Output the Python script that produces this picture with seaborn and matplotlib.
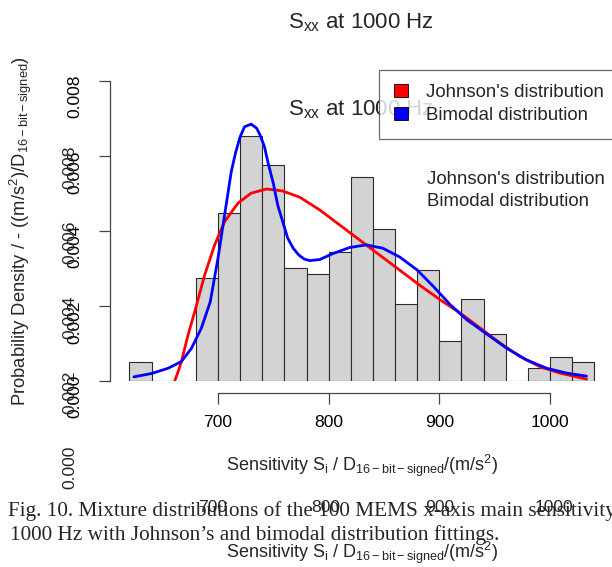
import numpy as np
import pandas as pd
import matplotlib
matplotlib.use("Agg")
import matplotlib.pyplot as plt
import seaborn as sns
from matplotlib.patches import Patch

# histogram bins (left edges, width 20) and their densities
bin_left = [620, 640, 660, 680, 700, 720, 740, 760, 780, 800, 820,
            840, 860, 880, 900, 920, 940, 960, 980, 1000, 1020]
density = [0.00051, 0.0, 0.0, 0.00275, 0.00449, 0.00654, 0.00576, 0.00301,
           0.00285, 0.00343, 0.00543, 0.00405, 0.00206, 0.00296, 0.00106,
           0.00220, 0.00125, 0.0, 0.00035, 0.00064, 0.00051]
bin_width = 20

# fitted curves
johnson_x = [661, 664, 667, 673, 679, 688, 697, 706, 718, 730, 744, 758, 774,
             792, 810, 828, 846, 864, 882, 901, 919, 937, 955, 973, 991,
             1009, 1033]
johnson_y = [0.00001, 0.00025, 0.00052, 0.00123, 0.00185, 0.00283, 0.00363,
             0.00425, 0.00474, 0.00501, 0.00512, 0.00507, 0.00490, 0.00456,
             0.00416, 0.00376, 0.00336, 0.00296, 0.00256, 0.00216, 0.00181,
             0.00141, 0.00101, 0.00065, 0.00038, 0.00021, 0.00005]
bimodal_x = [624, 640, 655, 667, 676, 685, 693, 700, 706, 712, 716, 720, 724,
             730, 735, 738, 742, 745, 750, 754, 759, 763, 768, 773, 778, 783,
             792, 804, 819, 834, 849, 864, 880, 895, 910, 925, 943, 961, 979,
             997, 1015, 1033]
bimodal_y = [0.00011, 0.00020, 0.00034, 0.00052, 0.00087, 0.00141, 0.00211,
             0.00327, 0.00443, 0.00558, 0.00610, 0.00651, 0.00678, 0.00685,
             0.00674, 0.00656, 0.00625, 0.00585, 0.00527, 0.00469, 0.00420,
             0.00381, 0.00354, 0.00336, 0.00325, 0.00321, 0.00324, 0.00340,
             0.00356, 0.00363, 0.00354, 0.00331, 0.00296, 0.00251, 0.00203,
             0.00163, 0.00125, 0.00087, 0.00056, 0.00034, 0.00021, 0.00013]

x_ticks = [700, 800, 900, 1000]
y_ticks = [0.000, 0.002, 0.004, 0.006, 0.008]
y_tick_labels = ["0.000", "0.002", "0.004", "0.006", "0.008"]
legend_labels = ["Johnson's distribution", "Bimodal distribution"]
title = r"S$_{xx}$ at 1000 Hz"
x_label = r"Sensitivity S$_i$ / D$_{16-bit-signed}$/(m/s$^2$)"
y_label = r"Probability Density / - ((m/s$^2$)/D$_{16-bit-signed}$)"
caption = ["Fig. 10. Mixture distributions of the 100 MEMS x-axis main sensitivity at",
           "1000 Hz with Johnson\u2019s and bimodal distribution fittings."]

sns.set_style("white")
plt.rcParams["font.family"] = ["Liberation Sans", "DejaVu Sans"]
plt.rcParams["mathtext.fontset"] = "custom"
plt.rcParams["mathtext.rm"] = "Liberation Sans"
plt.rcParams["mathtext.it"] = "Liberation Sans:italic"
plt.rcParams["mathtext.default"] = "regular"
plt.rcParams["axes.axisbelow"] = False
plt.rcParams["xtick.bottom"] = True
plt.rcParams["ytick.left"] = True

W, H = 612, 567
fig = plt.figure(figsize=(W / 100, H / 100), dpi=100)
ax = fig.add_axes([123.9 / W, (H - 381) / H, 475.9 / W, 318.75 / H])


def fx(px):
    return px / W


def fy(py):
    return 1 - py / H


df = pd.DataFrame({"mid": np.array(bin_left) + bin_width / 2, "dens": density})
edges = bin_left + [bin_left[-1] + bin_width]
sns.histplot(data=df, x="mid", weights="dens", bins=edges, stat="count",
             color="#d3d3d3", edgecolor="#2b2b2b", linewidth=0.8, alpha=1,
             ax=ax)
sns.lineplot(x=johnson_x, y=johnson_y, color="red", linewidth=2.0, ax=ax)
sns.lineplot(x=bimodal_x, y=bimodal_y, color="blue", linewidth=2.0, ax=ax)

ax.set_xlim(615, 1045)
ax.set_ylim(0, 0.0085)
ax.set_xticks(x_ticks)
ax.set_yticks(y_ticks, labels=y_tick_labels)
ax.set_xlabel(x_label, fontsize=13)
ax.set_ylabel(y_label, fontsize=13.2)
ax.xaxis.set_label_coords(fx(362), fy(466), transform=fig.transFigure)
ax.yaxis.set_label_coords(fx(21), fy(231), transform=fig.transFigure)
ax.xaxis.label.set_va("center")
ax.yaxis.label.set_va("center")
ax.tick_params(axis="both", which="major", length=7.6, width=0.9,
               color="#444444", labelsize=12.6, direction="out",
               labelcolor="black", bottom=True, left=True)
ax.tick_params(axis="x", pad=8.5)
ax.tick_params(axis="y", pad=12, labelrotation=90)
for lab in ax.get_yticklabels():
    lab.set_va("center")

# R-like axes: detached lines spanning only the tick range
sns.despine(ax=ax, offset={"left": 10.0, "bottom": 8.6}, trim=True)
for side in ["left", "bottom"]:
    ax.spines[side].set_linewidth(0.9)
    ax.spines[side].set_color("#444444")

handles = [Patch(facecolor="red", edgecolor="black", linewidth=0.6),
           Patch(facecolor="blue", edgecolor="black", linewidth=0.6)]
leg = fig.legend(handles, legend_labels, loc="upper left",
                 bbox_to_anchor=(fx(379), fy(69.5)), bbox_transform=fig.transFigure,
                 fontsize=13.4, frameon=True, fancybox=False, borderpad=0.8,
                 handlelength=0.78, handleheight=0.7, handletextpad=0.95,
                 labelspacing=0.28, borderaxespad=0)
leg.get_frame().set_edgecolor("#444444")
leg.get_frame().set_linewidth(0.9)

# titles (drawn twice in the source)
fig.text(fx(361), fy(23), title, ha="center", va="center", fontsize=16)
fig.text(fx(361), fy(110), title, ha="center", va="center", fontsize=16)
fig.text(fx(427), fy(180), legend_labels[0], ha="left", va="center", fontsize=13.4)
fig.text(fx(427), fy(202), legend_labels[1], ha="left", va="center", fontsize=13.4)

# shifted duplicate tick labels and axis label
ghost_y = [467, 392, 317, 242, 167]
for py, lab in zip(ghost_y, y_tick_labels):
    fig.text(fx(70), fy(py), lab, rotation=90, ha="center", va="center", fontsize=12.6)
ghost_x = [213, 326, 440, 554]
for px, t in zip(ghost_x, x_ticks):
    fig.text(fx(px), fy(508), str(t), ha="center", va="center", fontsize=12.6)
fig.text(fx(362), fy(553), x_label, ha="center", va="center", fontsize=13)

# caption
fig.text(fx(8), fy(516), caption[0], ha="left", va="baseline",
         fontsize=15.3, family="Liberation Serif")
fig.text(fx(10), fy(540), caption[1], ha="left", va="baseline",
         fontsize=15.3, family="Liberation Serif")

fig.savefig("out.png", dpi=100)
